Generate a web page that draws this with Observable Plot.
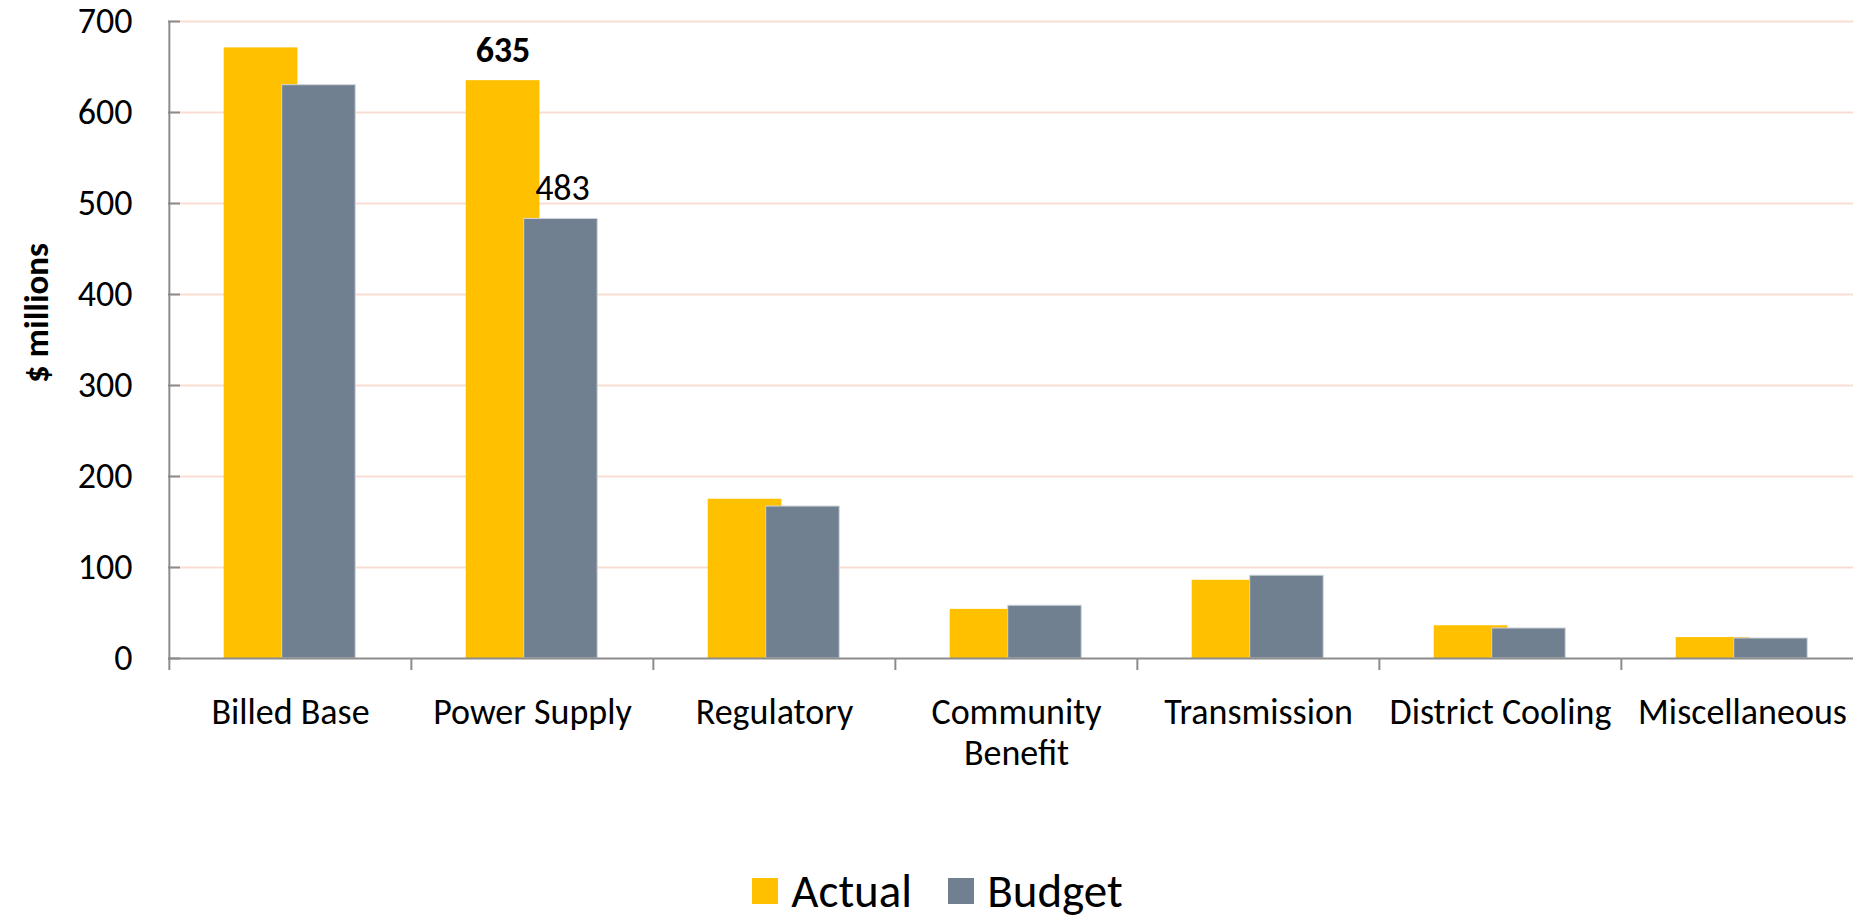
<!DOCTYPE html>
<html>
<head>
<meta charset="utf-8">
<script src="https://cdn.jsdelivr.net/npm/d3@7"></script>
<script src="https://cdn.jsdelivr.net/npm/@observablehq/plot@0.6"></script>
<style>
  html, body { margin: 0; padding: 0; background: #fff; }
  body { width: 1853px; height: 919px; overflow: hidden; font-family: Carlito, Lato, sans-serif; }
  #legend { display: flex; justify-content: center; align-items: center; height: 50px; padding-top: 16px; margin-left: 22px; font-size: 47px; line-height: 1; color: #000; }
  #legend .item { display: flex; align-items: center; margin: 0 18px; }
  #legend .sw { width: 26px; height: 26px; margin-right: 13px; }
</style>
</head>
<body>
<div id="chart"></div>
<div id="legend"></div>
<script>
const categories = ["Billed Base", "Power Supply", "Regulatory", "Community Benefit", "Transmission", "District Cooling", "Miscellaneous"];
const tickLabels = ["Billed Base", "Power Supply", "Regulatory", "Community\nBenefit", "Transmission", "District Cooling", "Miscellaneous"];
const actual = [671, 635, 175, 54, 86, 36, 23];
const budget = [630, 483, 167, 58, 91, 33, 22];
const yTicks = [0, 100, 200, 300, 400, 500, 600, 700];
const seriesNames = ["Actual", "Budget"];
const seriesColors = ["#FFC000", "#708090"];
const labelledCategory = "Power Supply";

const rows = categories.map((c, i) => ({category: c, actual: actual[i], budget: budget[i]}));
const labelRow = rows.filter(d => d.category === labelledCategory);
const tickMap = new Map(categories.map((c, i) => [c, tickLabels[i]]));

const FONT = "Carlito, Lato, sans-serif";
const W = 1853, H = 850;
const mL = 168, mR = -11, mT = 21, mB = 192;
const bw = (W - mR - mL) / categories.length;

const chart = Plot.plot({
  width: W,
  height: H,
  marginLeft: mL,
  marginRight: mR,
  marginTop: mT,
  marginBottom: mB,
  style: {fontFamily: FONT, fontSize: "36px", color: "#000", background: "#fff", overflow: "visible"},
  x: {domain: categories, padding: 0, axis: null, label: null},
  y: {domain: [0, 700], axis: null, label: null},
  marks: [
    Plot.ruleY(yTicks.filter(t => t > 0), {stroke: "#F9DDD3", strokeWidth: 2}),
    Plot.barY(rows, {x: "category", y: "actual", fill: seriesColors[0], insetLeft: 54.7, insetRight: bw - 128.7}),
    Plot.barY(rows, {x: "category", y: "budget", fill: seriesColors[1], stroke: "#D0D5DB", strokeWidth: 1, insetLeft: 112.7, insetRight: bw - 186.5}),
    Plot.ruleY([0], {stroke: "#8C8C8C", strokeWidth: 2}),
    Plot.ruleX([categories[0]], {dx: -bw / 2, stroke: "#8C8C8C", strokeWidth: 2}),
    Plot.axisY({ticks: yTicks, tickSize: 12, dx: 12, tickFormat: () => "", label: null, stroke: "#8C8C8C", strokeWidth: 2}),
    Plot.axisY({ticks: yTicks, tickSize: 0, tickPadding: 36, fontSize: 36, label: null, tickFormat: d => String(d)}),
    Plot.axisX({tickSize: 12, dx: -bw / 2, tickFormat: () => "", label: null, stroke: "#8C8C8C", strokeWidth: 2}),
    Plot.axisX({tickSize: 0, tickPadding: 36, fontSize: 36, lineHeight: 1.15, label: null, tickFormat: d => tickMap.get(d)}),
    Plot.text(labelRow, {x: "category", y: "actual", text: d => String(d.actual), dx: -29.5, dy: -19, lineAnchor: "bottom", fontSize: 36, fontWeight: "bold", fill: "#000"}),
    Plot.text(labelRow, {x: "category", y: "budget", text: d => String(d.budget), dx: 30, dy: -19, lineAnchor: "bottom", fontSize: 36, fill: "#000"}),
    Plot.text(["$ millions"], {frameAnchor: "left", textAnchor: "middle", rotate: -90, dx: -132, dy: -27, fontSize: 35, fontWeight: "bold", fill: "#000"})
  ]
});
document.getElementById("chart").appendChild(chart);

const legend = document.getElementById("legend");
seriesNames.forEach((name, i) => {
  const item = document.createElement("div");
  item.className = "item";
  const sw = document.createElement("div");
  sw.className = "sw";
  sw.style.background = seriesColors[i];
  const label = document.createElement("span");
  label.textContent = name;
  item.appendChild(sw);
  item.appendChild(label);
  legend.appendChild(item);
});
</script>
</body>
</html>
